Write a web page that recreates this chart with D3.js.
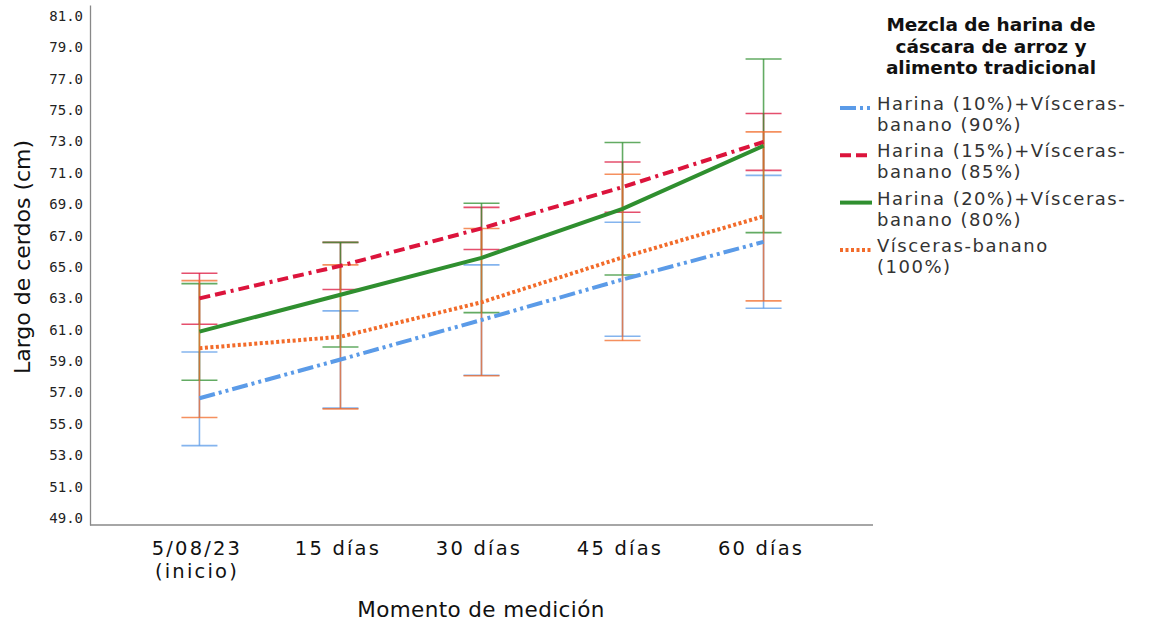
<!DOCTYPE html>
<html>
<head>
<meta charset="utf-8">
<script src="https://cdn.jsdelivr.net/npm/d3@7"></script>
<style>
  body { margin: 0; background: #fff; }
  svg { display: block; }
</style>
</head>
<body>
<svg id="chart" width="1150" height="625"></svg>
<script>
// categories on the x axis
var moments = ["5/08/23\n(inicio)", "15 días", "30 días", "45 días", "60 días"];
var yTicks = [49, 51, 53, 55, 57, 59, 61, 63, 65, 67, 69, 71, 73, 75, 77, 79, 81];

var seriesNames = [
    ["Harina (10%)+Vísceras-", "banano (90%)"],
    ["Harina (15%)+Vísceras-", "banano (85%)"],
    ["Harina (20%)+Vísceras-", "banano (80%)"],
    ["Vísceras-banano", "(100%)"]
];

// means and error bar limits per series
var mean10 = [56.63, 59.10, 61.62, 64.20, 66.60];
var low10  = [53.61, 56.00, 58.10, 60.58, 62.37];
var high10 = [59.58, 62.20, 65.13, 67.85, 70.84];

var mean15 = [63.00, 65.07, 67.46, 70.09, 72.97];
var low15  = [61.35, 63.56, 66.11, 68.49, 71.16];
var high15 = [64.60, 66.57, 68.80, 71.69, 74.78];

var mean20 = [60.88, 63.23, 65.58, 68.71, 72.73];
var low20  = [57.78, 59.90, 62.09, 64.49, 67.19];
var high20 = [63.94, 66.57, 69.06, 72.93, 78.26];

var mean0 = [59.82, 60.55, 62.75, 65.61, 68.23];
var low0  = [55.40, 55.95, 58.06, 60.31, 62.84];
var high0 = [64.13, 65.13, 67.45, 70.91, 73.61];

var colors = ["#5b9be8", "#dc143c", "#2f8f2f", "#f26b2a"];
var dashes = ["16,4,3,4,3,4", "11,5,11,5,3,5", null, "3,2.5"];

var series = [
    { mean: mean10, low: low10, high: high10 },
    { mean: mean15, low: low15, high: high15 },
    { mean: mean20, low: low20, high: high20 },
    { mean: mean0, low: low0, high: high0 }
];

var margin = { left: 90, top: 5, right: 873, bottom: 525 };
var svg = d3.select("#chart");

var xScale = d3.scalePoint()
    .domain(moments)
    .range([margin.left, margin.right])
    .padding(0.776);

var yScale = d3.scaleLinear()
    .domain([48.55, 81.7])
    .range([margin.bottom, margin.top]);

// y axis
var yAxis = svg.append("g")
    .attr("transform", "translate(" + margin.left + ",0)")
    .call(d3.axisLeft(yScale).tickValues(yTicks).tickFormat(d3.format(".1f")).tickSize(0).tickPadding(7));
yAxis.select(".domain").attr("stroke", "#888").attr("stroke-width", 1.3);
yAxis.selectAll("text")
    .attr("font-family", "DejaVu Sans Mono")
    .attr("font-size", 14)
    .attr("fill", "#222");

// x axis
var xAxis = svg.append("g")
    .attr("transform", "translate(0," + margin.bottom + ")")
    .call(d3.axisBottom(xScale).tickSize(0).tickPadding(0));
xAxis.select(".domain").attr("stroke", "#888").attr("stroke-width", 1.3)
    .attr("d", "M" + margin.left + ",0H" + margin.right);
xAxis.selectAll(".tick text").each(function (d) {
    var t = d3.select(this).text(null)
        .attr("font-family", "DejaVu Sans")
        .attr("font-size", 19.5)
        .attr("letter-spacing", 2.2)
        .attr("fill", "#111")
        .attr("y", 30)
        .attr("dy", 0);
    d.split("\n").forEach(function (line, i) {
        t.append("tspan").attr("x", -3).attr("dy", i === 0 ? 0 : 22.5).text(line);
    });
});

// axis titles
svg.append("text")
    .attr("transform", "translate(30,257) rotate(-90)")
    .attr("text-anchor", "middle")
    .attr("font-family", "DejaVu Sans")
    .attr("font-size", 22)
    .attr("fill", "#111")
    .text("Largo de cerdos (cm)");

svg.append("text")
    .attr("x", 481)
    .attr("y", 617)
    .attr("text-anchor", "middle")
    .attr("font-family", "DejaVu Sans")
    .attr("font-size", 21.5)
    .attr("letter-spacing", 0.4)
    .attr("fill", "#111")
    .text("Momento de medición");

// error bars
var capHalf = 18;
var bars = svg.append("g");
series.forEach(function (s, k) {
    var g = bars.append("g")
        .attr("stroke", colors[k])
        .attr("stroke-opacity", 0.75)
        .attr("stroke-width", 1.6);
    moments.forEach(function (m, i) {
        var x = xScale(m);
        g.append("line")
            .attr("x1", x).attr("x2", x)
            .attr("y1", yScale(s.low[i])).attr("y2", yScale(s.high[i]));
        g.append("line")
            .attr("x1", x - capHalf).attr("x2", x + capHalf)
            .attr("y1", yScale(s.low[i])).attr("y2", yScale(s.low[i]));
        g.append("line")
            .attr("x1", x - capHalf).attr("x2", x + capHalf)
            .attr("y1", yScale(s.high[i])).attr("y2", yScale(s.high[i]));
    });
});

// mean lines
var line = d3.line()
    .x(function (d, i) { return xScale(moments[i]); })
    .y(function (d) { return yScale(d); });

series.forEach(function (s, k) {
    svg.append("path")
        .attr("d", line(s.mean))
        .attr("fill", "none")
        .attr("stroke", colors[k])
        .attr("stroke-width", 4)
        .attr("stroke-dasharray", dashes[k]);
});

// legend
var legend = svg.append("g");
var titleLines = ["Mezcla de harina de", "cáscara de arroz y", "alimento tradicional"];
legend.selectAll(".ltitle")
    .data(titleLines)
    .enter()
    .append("text")
    .attr("x", 991)
    .attr("y", function (d, i) { return 31 + i * 21.5; })
    .attr("text-anchor", "middle")
    .attr("font-family", "DejaVu Sans")
    .attr("font-weight", "bold")
    .attr("font-size", 18.5)
    .attr("fill", "#111")
    .text(function (d) { return d; });

seriesNames.forEach(function (names, k) {
    var base = 108 + k * 47.3;
    legend.append("line")
        .attr("x1", 840).attr("x2", 872)
        .attr("y1", base).attr("y2", base)
        .attr("stroke", colors[k])
        .attr("stroke-width", 4)
        .attr("stroke-dasharray", dashes[k]);
    names.forEach(function (n, j) {
        legend.append("text")
            .attr("x", 877)
            .attr("y", base + 2 + j * 21)
            .attr("font-family", "DejaVu Sans")
            .attr("font-size", 18)
            .attr("letter-spacing", 1.5)
            .attr("fill", "#333")
            .text(n);
    });
});
</script>
</body>
</html>
